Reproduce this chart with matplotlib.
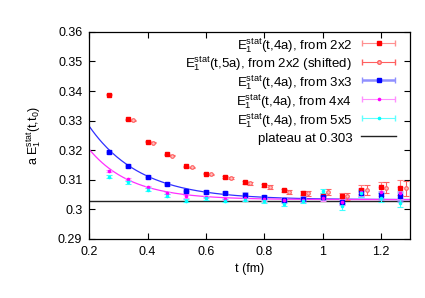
import numpy as np
import matplotlib
matplotlib.use('Agg')
import matplotlib.pyplot as plt
from matplotlib.legend_handler import HandlerErrorbar
from matplotlib.container import ErrorbarContainer

plt.rcParams['font.family'] = ['Liberation Sans', 'DejaVu Sans']
plt.rcParams['mathtext.fontset'] = 'custom'
plt.rcParams['mathtext.rm'] = 'Liberation Sans'
plt.rcParams['mathtext.it'] = 'Liberation Sans'
plt.rcParams['font.size'] = 9

# time slices t = 4a .. 19a  (a ~ 0.0667 fm)
t = [0.2667, 0.3333, 0.4, 0.4667, 0.5333, 0.6, 0.6667, 0.7333,
     0.8, 0.8667, 0.9333, 1.0, 1.0667, 1.1333, 1.2, 1.2667]
shift = 0.018

e2x2 = [0.3388, 0.3304, 0.3229, 0.3186, 0.3146, 0.3121, 0.3110, 0.3091,
        0.3081, 0.3064, 0.3056, 0.3047, 0.3046, 0.3067, 0.3075, 0.3074]
e2x2_err = [0.0002, 0.0002, 0.0002, 0.0002, 0.0002, 0.0003, 0.0003, 0.0004,
            0.0005, 0.0006, 0.0007, 0.0009, 0.0010, 0.0015, 0.0019, 0.0025]

e2x2s = [0.3301, 0.3226, 0.3182, 0.3142, 0.3118, 0.3106, 0.3088, 0.3076,
         0.3059, 0.3054, 0.3059, 0.3044, 0.3065, 0.3074, 0.3071]
e2x2s_err = [0.0002, 0.0002, 0.0002, 0.0003, 0.0003, 0.0004, 0.0005, 0.0006,
             0.0007, 0.0008, 0.0010, 0.0011, 0.0017, 0.0020, 0.0025]

e3x3 = [0.3195, 0.3147, 0.3109, 0.3086, 0.3063, 0.3059, 0.3055, 0.3049,
        0.3042, 0.3031, 0.3035, 0.3042, 0.3026, 0.3057, 0.3048, 0.3044]
e3x3_err = [0.0003, 0.0003, 0.0003, 0.0003, 0.0004, 0.0004, 0.0004, 0.0005,
            0.0005, 0.0006, 0.0006, 0.0007, 0.0008, 0.0010, 0.0012, 0.0015]

e4x4 = [0.3129, 0.3102, 0.3075, 0.3055, 0.3044, 0.3041, 0.3035, 0.3038,
        0.3035, 0.3032, 0.3032, 0.3038, 0.3026, 0.3059, 0.3060, 0.3055]
e4x4_err = [0.0004, 0.0004, 0.0004, 0.0004, 0.0004, 0.0004, 0.0004, 0.0005,
            0.0005, 0.0006, 0.0006, 0.0008, 0.0010, 0.0013, 0.0016, 0.0020]

e5x5 = [0.3111, 0.3091, 0.3066, 0.3046, 0.3030, 0.3037, 0.3030, 0.3032,
        0.3029, 0.3019, 0.3029, 0.3062, 0.3010, 0.3054, 0.3040, 0.3023]
e5x5_err = [0.0006, 0.0005, 0.0005, 0.0005, 0.0005, 0.0005, 0.0005, 0.0005,
            0.0006, 0.0007, 0.0007, 0.0008, 0.0011, 0.0012, 0.0015, 0.0015]

plateau = 0.303
# exponential fits  E(t) = c + A exp(-b t)
fit3_c, fit3_A, fit3_b = 0.3033, 0.0248 * np.exp(5.71 * 0.2), 5.71
fit4_c, fit4_A, fit4_b = 0.3033, 0.0170 * np.exp(7.0 * 0.2), 7.0

red = '#ff0000'
blue = '#0000ff'
mag = '#ff00ff'
cyan = '#00ffff'

fig = plt.figure(figsize=(4.25, 2.98), dpi=100)
ax = fig.add_axes([0.21, 0.198, 0.755, 0.695])

ts = np.array(t)
ax.axhline(plateau, color='#222222', lw=1.0, zorder=1)
tf = np.linspace(0.2, 1.3, 200)
ax.plot(tf, fit3_c + fit3_A * np.exp(-fit3_b * tf), color='#3030ff', lw=0.9, zorder=2)
ax.plot(tf, fit4_c + fit4_A * np.exp(-fit4_b * tf), color='#ff30ff', lw=0.9, zorder=2)

ax.errorbar(ts, e2x2, yerr=e2x2_err, fmt='none', ecolor='#ff8080', elinewidth=0.8, capsize=2, capthick=0.8, zorder=3)
ax.plot(ts, e2x2, 's', color=red, ms=2.4, mec=red, zorder=5)
ax.errorbar(ts[1:] + shift, e2x2s, yerr=e2x2s_err, fmt='none', ecolor='#ff6060', elinewidth=0.8, capsize=2, capthick=0.8, zorder=3)
ax.plot(ts[1:] + shift, e2x2s, 'o', mfc='#ffc0c0', mec='#ff6060', ms=2.6, mew=0.8, zorder=5)

ax.errorbar(ts, e3x3, yerr=e3x3_err, fmt='none', ecolor='#9090ff', elinewidth=2.5, capsize=2.5, capthick=2.0, alpha=0.8, zorder=3)
ax.plot(ts, e3x3, 's', color=blue, ms=2.4, zorder=5)
ax.errorbar(ts, e4x4, yerr=e4x4_err, fmt='none', ecolor='#ff90ff', elinewidth=0.8, capsize=2, capthick=0.8, zorder=3)
ax.plot(ts, e4x4, 'o', color=mag, ms=1.6, zorder=5)
ax.errorbar(ts, e5x5, yerr=e5x5_err, fmt='none', ecolor='#40ffff', elinewidth=0.8, capsize=2, capthick=0.8, zorder=3)
ax.plot(ts, e5x5, 'o', color=cyan, ms=1.6, zorder=5)

# legend proxies (horizontal error bars like gnuplot)
h1 = ax.errorbar([np.nan], [np.nan], xerr=[1], fmt='s', color=red, ms=2.2, ecolor='#ff9090', elinewidth=0.8, capsize=2)
h2 = ax.errorbar([np.nan], [np.nan], xerr=[1], fmt='o', mfc='#ffc0c0', mec='#ff6060', ms=2.6, ecolor='#ff6060', elinewidth=0.8, capsize=2)
h3 = ax.errorbar([np.nan], [np.nan], xerr=[1], fmt='s', color=blue, ms=2.4, ecolor='#9090ff', elinewidth=1.8, capsize=2)
h4 = ax.errorbar([np.nan], [np.nan], xerr=[1], fmt='o', color=mag, ms=1.6, ecolor='#ff90ff', elinewidth=0.8, capsize=2)
h5 = ax.errorbar([np.nan], [np.nan], xerr=[1], fmt='o', color=cyan, ms=1.6, ecolor='#60ffff', elinewidth=0.8, capsize=2)
h6, = ax.plot([], [], color='#222222', lw=1.0)

labels = [r'E$_1^{\rm stat}$(t,4a), from 2x2',
          r'E$_1^{\rm stat}$(t,5a), from 2x2 (shifted)',
          r'E$_1^{\rm stat}$(t,4a), from 3x3',
          r'E$_1^{\rm stat}$(t,4a), from 4x4',
          r'E$_1^{\rm stat}$(t,4a), from 5x5',
          'plateau at 0.303']
ax.legend([h1, h2, h3, h4, h5, h6], labels, loc='upper right', frameon=False,
          markerfirst=False, handlelength=2.6, handletextpad=0.7,
          handleheight=1.6, labelspacing=0.0, borderaxespad=0.0, borderpad=0.0,
          bbox_to_anchor=(0.955, 0.98), fontsize=9.5,
          handler_map={ErrorbarContainer: HandlerErrorbar(xerr_size=1.25)})

ax.set_xlim(0.2, 1.3)
ax.set_ylim(0.29, 0.36)
ax.set_xticks([0.2, 0.4, 0.6, 0.8, 1.0, 1.2])
ax.set_xticklabels(['0.2', '0.4', '0.6', '0.8', '1', '1.2'])
ax.set_yticks([0.29, 0.3, 0.31, 0.32, 0.33, 0.34, 0.35, 0.36])
ax.set_yticklabels(['0.29', '0.3', '0.31', '0.32', '0.33', '0.34', '0.35', '0.36'])
ax.tick_params(direction='in', top=True, right=True, length=4, width=0.8, pad=5)
for s in ax.spines.values():
    s.set_linewidth(0.9)
ax.set_xlabel('t (fm)', labelpad=4)
ax.set_ylabel(r'a E$_1^{\rm stat}$(t,t$_0$)', labelpad=11)

fig.savefig('out.png', dpi=100)
